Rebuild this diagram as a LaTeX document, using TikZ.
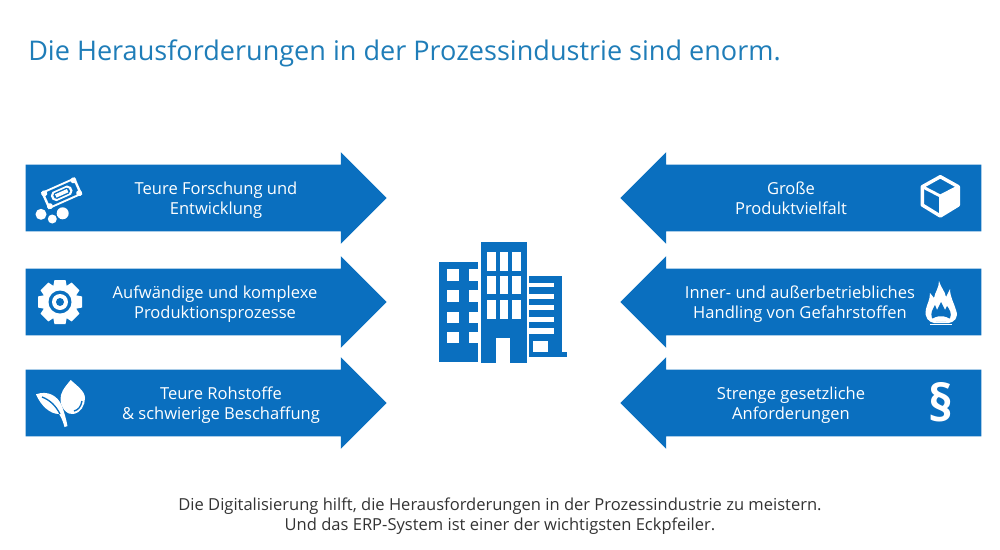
\documentclass[tikz,border=0pt]{standalone}
\usepackage{fontspec}
\setmainfont{Open Sans}
\usetikzlibrary{shapes.arrows}

\definecolor{barblue}{HTML}{0A6FBF}
\definecolor{titleblue}{HTML}{1F7DB8}
\definecolor{noteblack}{HTML}{333333}

\tikzset{
  arrowbox/.style={single arrow,anchor=tip,fill=barblue,draw=none,inner sep=0pt,text height=49.5pt,text depth=0pt,minimum height=270.75pt,single arrow head extend=9.4pt,single arrow tip angle=90,single arrow head indent=0pt},
  rightbar/.style={arrowbox},
  leftbar/.style={arrowbox,shape border rotate=180},
  bartext/.style={align=center,text=white,font=\fontsize{12.4}{15}\selectfont},
  notetext/.style={align=center,text=noteblack,font=\fontsize{12.4}{15}\selectfont}
}

\begin{document}
\begin{tikzpicture}[x=0.75pt,y=-0.75pt]
\useasboundingbox (0,0) rectangle (1000,550);

\node [anchor=base west,inner sep=0pt,text=titleblue,font=\fontsize{20.3}{24}\selectfont] (title) at(28,60){Die Herausforderungen in der Prozessindustrie sind enorm.};

%left arrows
\node [rightbar] (l1) at(387,198){};
\node [rightbar] (l2) at(387,302){};
\node [rightbar] (l3) at(387,403){};
%right arrows
\node [leftbar] (r1) at(620,198){};
\node [leftbar] (r2) at(620,302){};
\node [leftbar] (r3) at(620,403){};

\node [bartext] (tl1) at(216,200){Teure Forschung und\\Entwicklung};
\node [bartext] (tl2) at(215,304){Aufwändige und komplexe\\Produktionsprozesse};
\node [bartext] (tl3) at(221,405){Teure Rohstoffe\\\& schwierige Beschaffung};
\node [bartext] (tr1) at(791,198){Große\\Produktvielfalt};
\node [bartext] (tr2) at(800,304){Inner- und außerbetriebliches\\Handling von Gefahrstoffen};
\node [bartext] (tr3) at(791,405){Strenge gesetzliche\\Anforderungen};

\node [notetext] (note) at(500,516){Die Digitalisierung hilft, die Herausforderungen in der Prozessindustrie zu meistern.\\Und das ERP-System ist einer der wichtigsten Eckpfeiler.};

%money
\begin{scope}[shift={(61.7,193.3)},rotate=24]
\fill[white] (-18.5,-9.3) rectangle (18.5,9.3);
\fill[barblue] (-16,-7.3) rectangle (16,7.3);
\fill[white] (-11,-2) -- (-8,-5) -- (8,-5) -- (11,-2) -- (11,2) -- (8,5) -- (-8,5) -- (-11,2) -- cycle;
\fill[barblue] (-8.5,-1.5) -- (-6.5,-3.2) -- (6.5,-3.2) -- (8.5,-1.5) -- (8.5,1.5) -- (6.5,3.2) -- (-6.5,3.2) -- (-8.5,1.5) -- cycle;
\fill[white] (-6.5,-1.8) rectangle (6.5,1.8);
\foreach \sx in {-1,1}
  \foreach \sy in {-1,1}
    \fill[white] (16*\sx,7*\sy) circle (3);
\end{scope}
\fill[white] (41,214.3) circle (5.5);
\fill[white] (52.3,219) circle (4.5);
\fill[white] (62.7,213.3) circle (6);

%gear
\fill[white] (60,302) circle (17.5);
\foreach \a in {0,45,...,315}
  \fill[white,rotate around={\a:(60,302)}] (54.5,280) -- (65.5,280) -- (68,292) -- (52,292) -- cycle;
\fill[barblue] (60,302) circle (11.5);
\fill[white] (60,302) circle (8);
\fill[barblue] (60,302) circle (4);

%leaves
\fill[white] (70.7,380) .. controls (64,388) and (60,393) .. (60.5,400) .. controls (61,409) and (68,415) .. (73,414) .. controls (81,413) and (85,405) .. (85,398) .. controls (85,391) and (76,385) .. cycle;
\draw[barblue,line width=1pt] (82,401) .. controls (81,407) and (78,410) .. (74,411);
\fill[white] (36,394.3) .. controls (48,390) and (58,396) .. (62,406) .. controls (64,412) and (66,418) .. (67.5,426) -- (64.5,427) .. controls (63,421) and (61,417) .. (59,414) .. controls (50,414) and (41,406) .. cycle;
\draw[barblue,line width=1pt] (42,397) .. controls (50,400) and (56,406) .. (60,414);

%building
\fill[barblue] (439.3,261.7) rectangle (478.3,361.7);
\fill[barblue] (480.7,241.7) rectangle (526.7,363);
\fill[barblue] (529.3,276) rectangle (561.7,357.3);
\fill[barblue] (561.7,351.7) rectangle (566.7,357.3);
\foreach \wy in {269.3,290,311.7,331.7}{
  \fill[white] (447.3,\wy) rectangle ++(11.7,11.7);
  \fill[white] (469,\wy) rectangle ++(10,11.7);
}
\foreach \wy/\wh in {252.3/18.4,275.7/18.6,300/19}
  \foreach \wx in {487.3,500,512.3}
    \fill[white] (\wx,\wy) rectangle ++(8.2,\wh);
\fill[white] (496,338.3) rectangle (510,363);
\foreach \wy/\wh in {282.7/4.6,294/5,305/5,317.3/4.6,327.7/6.3}
  \fill[white] (529.3,\wy) rectangle ++(24.7,\wh);
\fill[white] (533.3,341) rectangle (548.3,351.7);

%cube
\fill[white] (940.3,196) -- (958.3,186.7) -- (958.3,205) -- (940.3,216) -- cycle;
\draw[white,line width=2.6pt,line join=round] (940.3,176.7) -- (958.3,186.7) -- (958.3,205) -- (940.3,216) -- (922.3,205) -- (922.3,186.7) -- cycle;
\draw[white,line width=2.2pt,line join=round] (922.3,186.7) -- (940.3,196) -- (958.3,186.7);
\draw[white,line width=2.2pt] (940.3,196) -- (940.3,216);

%flame
\fill[white] (939,281) .. controls (941,288) and (945,291) .. (946,297) -- (950,289) .. controls (950,297) and (954,303) .. (956,310) .. controls (959,318) and (954,322) .. (949,323) -- (934,323) .. controls (929,322) and (924,318) .. (926,309) .. controls (927,304) and (930,300) .. (930,293) -- (934,298) .. controls (935,292) and (939,288) .. cycle;
\fill[barblue] (936,321) -- (932,318) .. controls (930,313) and (933,309) .. (935,305) -- (937,310) -- (941,302) -- (945,310) -- (947,306) .. controls (950,310) and (952,314) .. (950,318) -- (946,321) -- cycle;
\fill[white] (931,320) .. controls (936,315) and (946,315) .. (951,320) .. controls (946,322) and (936,322) .. cycle;
\draw[white,line width=1.4pt] (930,324.5) -- (952,324.5);

%paragraph
\node [text=white,inner sep=0pt,font=\bfseries\fontsize{38}{38}\selectfont] (para) at(941,402){§};
\end{tikzpicture}
\end{document}
